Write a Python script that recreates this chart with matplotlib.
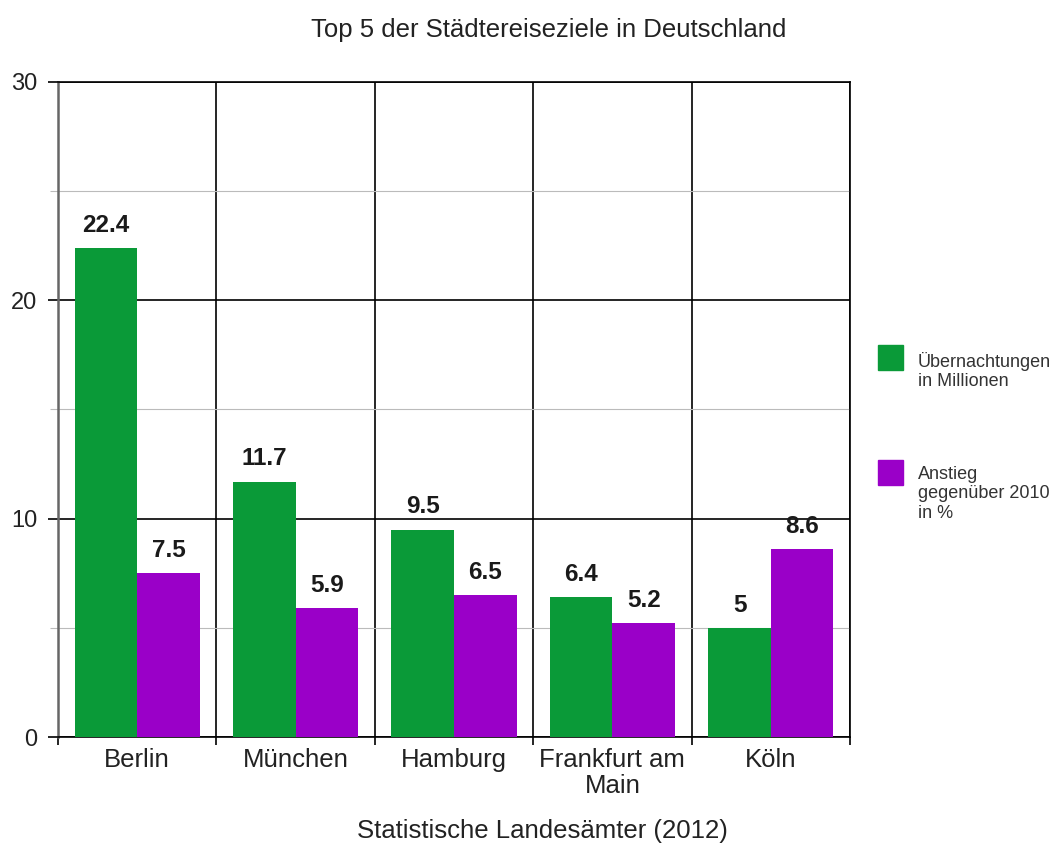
import matplotlib
matplotlib.use("Agg")
import matplotlib.pyplot as plt
from matplotlib.patches import Rectangle
import numpy as np

plt.rcParams['font.family'] = ['Liberation Sans', 'DejaVu Sans']

# ---- data ----
cities = ["Berlin", "München", "Hamburg", "Frankfurt am\nMain", "Köln"]
overnight_mio = [22.4, 11.7, 9.5, 6.4, 5]
increase_pct = [7.5, 5.9, 6.5, 5.2, 8.6]
series_names = ["Übernachtungen\nin Millionen", "Anstieg\ngegenüber 2010\nin %"]
y_ticks = [0, 10, 20, 30]
title = "Top 5 der Städtereiseziele in Deutschland"
source = "Statistische Landesämter (2012)"

GREEN = "#0a9a38"
PURPLE = "#9a00c8"

W, H = 1057, 846
fig = plt.figure(figsize=(W / 100, H / 100), dpi=100)
ax = fig.add_axes([58 / W, 1 - 737 / H, (850 - 58) / W, (737 - 82) / H])

x = np.arange(len(cities))
bw = 0.395
b1 = ax.bar(x - bw / 2, overnight_mio, bw, color=GREEN, zorder=3)
b2 = ax.bar(x + bw / 2, increase_pct, bw, color=PURPLE, zorder=3)
ax.bar_label(b1, labels=[f"{v:g}" for v in overnight_mio], padding=8,
             fontsize=17.5, fontweight='bold', color='#1a1a1a')
ax.bar_label(b2, labels=[f"{v:g}" for v in increase_pct], padding=8,
             fontsize=17.5, fontweight='bold', color='#1a1a1a')

ax.set_xlim(-0.5, len(cities) - 0.5)
ax.set_ylim(0, 30)

# y axis
ax.set_yticks(y_ticks)
ax.set_yticks([5, 15, 25], minor=True)
ax.tick_params(axis='y', which='major', length=7, width=1.2, color='black',
               labelsize=17, pad=8, labelcolor='#222222')
ax.tick_params(axis='y', which='minor', length=6, width=0.8, color='#bbbbbb')

# x axis: boundaries as major ticks, city labels at centres as minor ticks
ax.set_xticks(np.arange(-0.5, len(cities), 1.0))
ax.set_xticklabels([])
ax.set_xticks(x, minor=True)
ax.set_xticklabels(cities, minor=True, fontsize=18.5, linespacing=1.1,
                   color='#222222')
ax.tick_params(axis='x', which='major', length=6, width=1.2, color='black')
ax.tick_params(axis='x', which='minor', length=0, pad=8)

# grid
ax.set_axisbelow(True)
ax.grid(axis='x', which='major', color='black', lw=1.2)
ax.grid(axis='y', which='major', color='black', lw=1.2)
ax.grid(axis='y', which='minor', color='#bbbbbb', lw=0.8)

for side in ['top', 'right', 'bottom']:
    ax.spines[side].set_color('black')
    ax.spines[side].set_linewidth(1.2)
ax.spines['left'].set_color('#666666')
ax.spines['left'].set_linewidth(1.8)

# titles
fig.text(549 / W, 1 - 30 / H, title, ha='center', va='center',
         fontsize=18.5, color='#222222')
fig.text(542 / W, 1 - 831 / H, source, ha='center', va='center',
         fontsize=18.5, color='#222222')

# legend
for (top_px, color, name, text_top) in [(345, GREEN, series_names[0], 352),
                                         (460, PURPLE, series_names[1], 466)]:
    fig.add_artist(Rectangle((878 / W, 1 - (top_px + 25) / H), 25 / W, 25 / H,
                             transform=fig.transFigure, color=color))
    fig.text(918 / W, 1 - text_top / H, name, ha='left', va='top',
             fontsize=13, linespacing=1.18, color='#333333')

fig.savefig("out.png", dpi=100)
